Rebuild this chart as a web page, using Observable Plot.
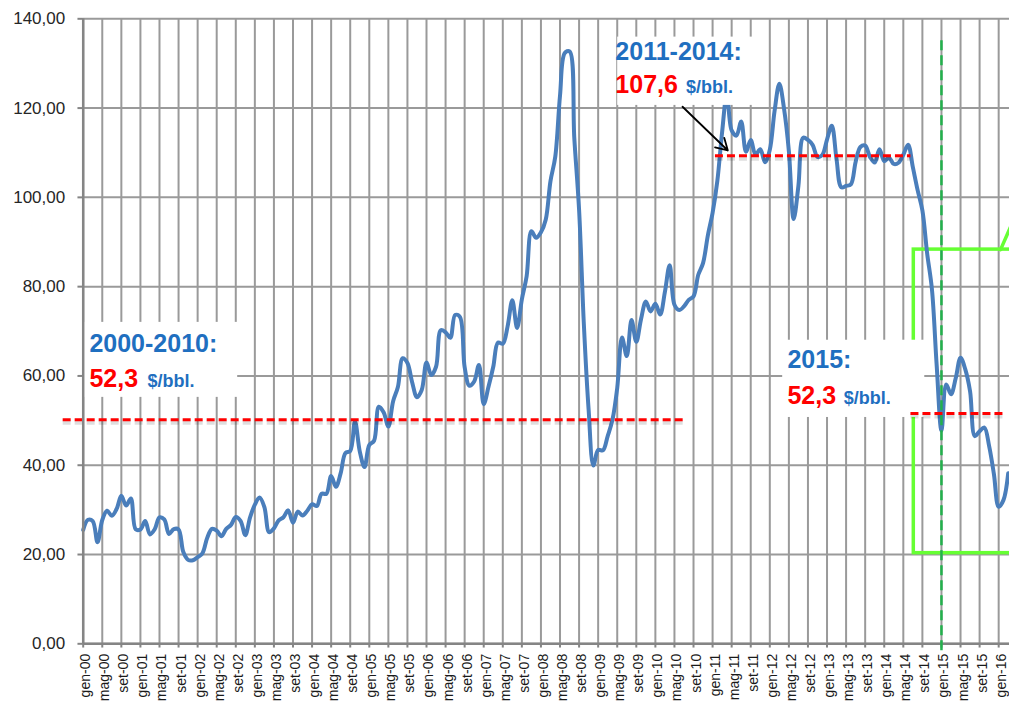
<!DOCTYPE html>
<html>
<head>
<meta charset="utf-8">
<script src="https://cdn.jsdelivr.net/npm/d3@7"></script>
<script src="https://cdn.jsdelivr.net/npm/@observablehq/plot@0.6"></script>
<style>
  html, body { margin: 0; padding: 0; background: #fff; }
  svg { display: block; }
</style>
</head>
<body>
<div id="chart"></div>
<script>
// Brent monthly average price, $/bbl, Jan 2000 – Mar 2016
const p2000 = [25.51, 27.78, 27.49, 22.76, 27.74, 29.80, 28.68, 30.20, 33.14, 30.96, 32.55, 25.66];
const p2001 = [25.62, 27.50, 24.50, 25.66, 28.31, 27.85, 24.61, 25.68, 25.62, 20.54, 18.80, 18.71];
const p2002 = [19.42, 20.28, 23.70, 25.73, 25.35, 24.08, 25.74, 26.65, 28.40, 27.54, 24.34, 28.33];
const p2003 = [31.18, 32.77, 30.61, 25.00, 25.86, 27.65, 28.35, 29.89, 27.11, 29.61, 28.75, 29.81];
const p2004 = [31.28, 30.86, 33.63, 33.59, 37.57, 35.18, 38.22, 42.74, 43.20, 49.78, 43.11, 39.60];
const p2005 = [44.51, 45.48, 53.10, 51.88, 48.65, 54.35, 57.52, 63.98, 62.91, 58.54, 55.24, 56.86];
const p2006 = [62.99, 60.21, 62.06, 70.26, 69.78, 68.56, 73.67, 73.23, 61.96, 57.81, 58.76, 62.47];
const p2007 = [53.68, 57.56, 62.05, 67.49, 67.21, 71.05, 76.93, 70.76, 77.17, 82.34, 92.41, 90.93];
const p2008 = [92.18, 94.99, 103.64, 109.07, 122.80, 132.32, 132.72, 113.24, 97.23, 71.58, 52.45, 39.95];
const p2009 = [43.44, 43.32, 46.54, 50.18, 57.30, 68.61, 64.44, 72.51, 67.65, 72.77, 76.66, 74.46];
const p2010 = [76.17, 73.75, 78.83, 84.82, 75.95, 74.76, 75.58, 77.04, 77.84, 82.67, 85.28, 91.45];
const p2011 = [96.52, 103.72, 114.64, 123.26, 114.99, 113.83, 116.97, 110.22, 112.83, 109.55, 110.77, 107.87];
const p2012 = [110.69, 119.33, 125.45, 119.75, 110.34, 95.16, 102.62, 113.36, 112.86, 111.71, 109.06, 109.49];
const p2013 = [112.96, 116.05, 108.47, 102.25, 102.56, 102.92, 107.93, 111.28, 111.60, 109.08, 107.79, 110.76];
const p2014 = [108.12, 108.90, 107.48, 107.76, 109.54, 111.80, 106.77, 101.61, 97.09, 87.43, 79.44, 62.34];
const p2015 = [47.76, 58.10, 55.89, 59.52, 64.08, 61.48, 56.56, 46.52, 47.62, 48.43, 44.27, 38.01];
const p2016 = [30.70, 32.18, 38.21];

// tick labels
const monthAbbr = ["gen", "mag", "set"];
const yearLabels = ["00","01","02","03","04","05","06","07","08","09","10","11","12","13","14","15","16"];
const yTicks = [0, 20, 40, 60, 80, 100, 120, 140];

// period annotations
const periodNames = ["2000-2010:", "2011-2014:", "2015:"];
const periodMeans = ["52,3", "107,6", "52,3"];
const periodUnit = "$/bbl.";
const periodLevels = [50.2, 109.3, 51.6];   // level of the red dashed line as drawn

const prices = [].concat(p2000, p2001, p2002, p2003, p2004, p2005, p2006, p2007,
                         p2008, p2009, p2010, p2011, p2012, p2013, p2014, p2015, p2016);
const series = prices.map((v, i) => ({m: i, v}));

const xTicks = [];
yearLabels.forEach((yy, yi) => monthAbbr.forEach((mm, mi) => {
  const m = yi * 12 + mi * 4;
  if (m <= 192) xTicks.push({m, label: `${mm}-${yy}`});
}));

const fmtY = d => d.toFixed(2).replace(".", ",");

const BLUE = "#4a7ebb";
const TXTBLUE = "#1f6fc0";
const RED = "#ff0000";
const GRID = "#9a9a9a";
const AXIS = "#858585";
const LIME = "#66ff33";
const FONT = "'Liberation Sans', Arial, sans-serif";

// period segments: [x1, x2] in months
const segs = [[-4.2, 125.9], [132.6, 173.6], [173.6, 193.1]];
const periodRows = periodLevels.map((y, i) => ({x1: segs[i][0], x2: segs[i][1], y}));

// white label boxes
const boxes = [
  {x1: 0.1, x2: 32.4, y1: 55.2, y2: 72.0},
  {x1: 112.1, x2: 141.5, y1: 120.6, y2: 135.9},
  {x1: 146.7, x2: 176.5, y1: 50.7, y2: 68.0}
];
const headPos = [{x: 1.3, y: 65.3}, {x: 111.6, y: 130.8}, {x: 147.7, y: 61.7}];
const meanPos = [{x: 1.3, y: 57.6}, {x: 111.6, y: 123.3}, {x: 147.7, y: 53.8}];
const unitPos = [{x: 13.5, y: 57.6}, {x: 126.4, y: 123.3}, {x: 159.5, y: 53.8}];

const chart = Plot.plot({
  width: 1009,
  height: 712,
  marginLeft: 82.7,
  marginRight: 0,
  marginTop: 18.3,
  marginBottom: 68.7,
  x: {domain: [0, 194.27], axis: null},
  y: {domain: [0, 140], axis: null},
  style: {fontFamily: FONT, background: "#fff", overflow: "hidden"},
  marks: [
    // grid
    Plot.ruleX(xTicks, {x: "m", stroke: GRID, strokeWidth: 2}),
    Plot.ruleY(yTicks, {y: d => d, stroke: GRID, strokeWidth: 2}),
    // lime highlight rectangle
    Plot.rect([0], {x1: 174.2, x2: 205, y1: 20.3, y2: 88.3, fill: "none", stroke: LIME, strokeWidth: 3.5, clip: false}),
    Plot.line([{m: 192.4, v: 88.3}, {m: 197, v: 99.5}], {x: "m", y: "v", stroke: LIME, strokeWidth: 3.5, clip: false}),
    // price series
    Plot.line(series, {x: "m", y: "v", stroke: BLUE, strokeWidth: 4, curve: "catmull-rom",
                       strokeLinejoin: "round", strokeLinecap: "round"}),
    // label boxes
    Plot.rect(boxes, {x1: "x1", x2: "x2", y1: "y1", y2: "y2", fill: "#fff"}),
    // red dashed averages with soft shadow
    Plot.ruleY(periodRows, {y: "y", x1: "x1", x2: "x2", dy: 3, stroke: "#000", strokeOpacity: 0.13,
                            strokeWidth: 4, strokeDasharray: "8,4", clip: false}),
    Plot.ruleY(periodRows, {y: "y", x1: "x1", x2: "x2", stroke: RED, strokeWidth: 3,
                            strokeDasharray: "8,4", clip: false}),
    // axes
    Plot.ruleX([0], {stroke: AXIS, strokeWidth: 2.5}),
    Plot.ruleY([0], {stroke: AXIS, strokeWidth: 2.5}),
    Plot.ruleX(xTicks, {x: "m", y1: 0, y2: -0.95, stroke: AXIS, strokeWidth: 2, clip: false}),
    Plot.ruleY(yTicks, {y: d => d, x1: -1.1, x2: 0, stroke: AXIS, strokeWidth: 2, clip: false}),
    // green dashed vertical at gen-15
    Plot.ruleX([180], {y1: 135.1, y2: -2.4, stroke: "#22b14c", strokeWidth: 2.5, strokeDasharray: "10,5", clip: false}),
    // axis labels
    Plot.text(yTicks, {x: 0, y: d => d, text: fmtY, textAnchor: "end", dx: -18, fontSize: 17,
                       fill: "#262626", ariaLabel: "ylabels"}),
    Plot.text(xTicks, {x: "m", text: "label", frameAnchor: "bottom", dy: 10, dx: 2.5, rotate: -90,
                       textAnchor: "end", lineAnchor: "middle", fontSize: 14, fill: "#1a1a1a",
                       ariaLabel: "xlabels"}),
    // annotations
    Plot.text(periodNames, {x: (d, i) => headPos[i].x, y: (d, i) => headPos[i].y, text: d => d,
                            textAnchor: "start", lineAnchor: "bottom", fontSize: 25, fontWeight: "bold", fill: TXTBLUE}),
    Plot.text(periodMeans, {x: (d, i) => meanPos[i].x, y: (d, i) => meanPos[i].y, text: d => d,
                            textAnchor: "start", lineAnchor: "bottom", fontSize: 25, fontWeight: "bold", fill: RED}),
    Plot.text(periodNames, {x: (d, i) => unitPos[i].x, y: (d, i) => unitPos[i].y, text: () => periodUnit,
                            textAnchor: "start", lineAnchor: "bottom", fontSize: 18, fontWeight: "bold", fill: TXTBLUE}),
    // arrow to the 2011-2014 average
    Plot.arrow([0], {x1: 125.7, y1: 120.3, x2: 135.2, y2: 110.5, stroke: "#000", strokeWidth: 1.8, headLength: 11})
  ]
});

function stretch(svg, label, sx, sy) {
  svg.querySelectorAll(`g[aria-label="${label}"] text`).forEach(t => {
    const tr = t.getAttribute("transform");
    if (tr) {
      t.setAttribute("transform", tr + ` scale(${sx},${sy})`);
    } else {
      const x = +t.getAttribute("x") || 0, y = +t.getAttribute("y") || 0;
      t.removeAttribute("x"); t.removeAttribute("y");
      t.setAttribute("transform", `translate(${x},${y}) scale(${sx},${sy})`);
    }
  });
}
stretch(chart, "ylabels", 1, 1.18);
stretch(chart, "xlabels", 1.22, 1);

document.getElementById("chart").appendChild(chart);
</script>
</body>
</html>
